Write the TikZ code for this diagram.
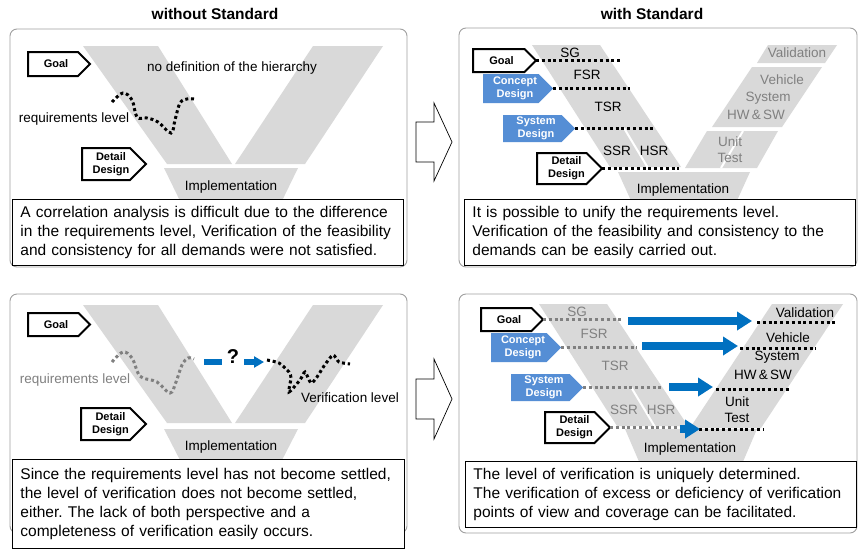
\documentclass[tikz,border=0pt]{standalone}
\usepackage{fontspec}
\setmainfont{Liberation Sans}
\usetikzlibrary{arrows.meta}
\definecolor{vgray}{RGB}{217,217,217}
\definecolor{pgray}{RGB}{160,160,160}
\definecolor{dgray}{RGB}{128,128,128}
\definecolor{tblue}{RGB}{85,142,213}
\definecolor{ablue}{RGB}{0,112,192}
\frenchspacing
% #1 name, #2 x1, #3 y1, #4 tip x, #5 y2, #6 style, #7 text, #8 font
\newcommand\vtag[8]{%
  \path[#6] (#2,#3) -- ({#4-(#5-#3)/2},#3) -- (#4,{(#3+#5)/2}) -- ({#4-(#5-#3)/2},#5) -- (#2,#5) -- cycle;
  \coordinate (#1) at (#4,{(#3+#5)/2});
  \node[tagtext,#8] (#1-t) at ({(#2+#4)/2-3},{(#3+#5)/2}) {#7};
}
\begin{document}
\begin{tikzpicture}[x=1pt,y=-1pt,
  band/.style={fill=vgray},
  panel/.style={draw=pgray, fill=white, rounded corners=7pt, line width=0.9pt},
  tbox/.style={draw=black, fill=white, line width=0.9pt, anchor=north west, inner xsep=8pt, inner ysep=0pt,
     text width=#1, align=left, font=\fontsize{15.5}{18.8}\selectfont},
  dotsb/.style={line width=3pt, dash pattern=on 3pt off 2.8pt},
  dotsg/.style={dotsb, draw=dgray},
  tagw/.style={draw=black, fill=white, line width=2pt},
  tagb/.style={fill=tblue},
  tagtext/.style={inner sep=0pt, align=center, font=\bfseries\fontsize{11}{13}\selectfont},
  btext/.style={text=white, font=\bfseries\fontsize{11}{13}\selectfont},
  lab/.style={inner sep=0pt, font=\fontsize{13.5}{15}\selectfont},
  glab/.style={lab, text=dgray},
  title/.style={inner sep=0pt, font=\bfseries\fontsize{15.5}{17}\selectfont},
  bigarrow/.style={draw=black, fill=white, line width=0.7pt},
  barrow/.style={draw=ablue, line width=8pt, -{Triangle[length=15pt,width=18pt]}},
]
\useasboundingbox (0,0) rectangle (864,549);
\fill[white] (0,0) rectangle (864,549);

% titles
\node[title] (t1) at (215,14) {without Standard};
\node[title] (t2) at (652,14) {with Standard};

% middle block arrows
\draw[bigarrow] (416,122) -- (434,122) -- (434,103) -- (452,142) -- (434,181) -- (434,162) -- (416,162) -- cycle;
\draw[bigarrow] (416,379) -- (434,379) -- (434,359) -- (452,399) -- (434,439) -- (434,419) -- (416,419) -- cycle;

% ================= panel 1 =================
\draw[panel] (10,29) rectangle (407,267);
\fill[band] (83,46) -- (158,46) -- (232,164) -- (167,164) -- cycle;
\fill[band] (313,46) -- (383,46) -- (305,164) -- (235,164) -- cycle;
\fill[band] (164,168) -- (298,168) -- (280,205) -- (182,205) -- cycle;
\node[lab] (impl1) at (231,187) {Implementation};
\node[lab] (nodef) at (232,68) {no definition of the hierarchy};
\node[lab] (req1) at (74,119) {requirements level};
\draw[dotsb] plot[smooth, tension=0.6] coordinates {(112,102) (123,93) (132,100) (137,117) (147,118) (158,122) (171,133) (175,120) (180,103) (187,99) (194,99)};
\vtag{g1}{28}{52}{90}{76}{tagw}{Goal}{}
\vtag{d1}{82}{148}{146}{180}{tagw}{Detail\\Design}{}
\node[tbox=375pt, minimum height=66pt] (box1) at (12,199) {A correlation analysis is difficult due to the difference\\in the requirements level, Verification of the feasibility\\and consistency for all demands were not satisfied.};

% ================= panel 2 =================
\draw[panel] (459,28) rectangle (857,267);
\fill[band] (532,45) -- (600,45) -- (681,167) -- (610,167) -- cycle;
\draw[white, line width=2pt] (624,128) -- (648,168);
\fill[band] (618,172) -- (750,172) -- (735,205) -- (633,205) -- cycle;
\fill[band] (768,45) -- (837,45) -- (825,63) -- (757,63) -- cycle;
\fill[band] (752,67) -- (822,67) -- (782,127) -- (712,127) -- cycle;
\fill[band] (707,131) -- (778,131) -- (757,168) -- (685,168) -- cycle;
\draw[white, line width=2pt] (743,131) -- (721,168);
\node[lab] (sg2) at (570,53) {SG};
\node[lab] (fsr2) at (587,75) {FSR};
\node[lab] (tsr2) at (608,107) {TSR};
\node[lab] (ssr2) at (617,151) {SSR};
\node[lab] (hsr2) at (654,151) {HSR};
\node[lab] (impl2) at (683,190) {Implementation};
\node[glab] (val2) at (797,53) {Validation};
\node[glab] (veh2) at (782,80) {Vehicle};
\node[glab] (sys2) at (768,98) {System};
\node[glab] (hw2) at (756,115) {HW\,\&\,SW};
\node[glab] (unit2) at (730,142) {Unit};
\node[glab] (test2) at (730,158) {Test};
\vtag{g2}{473}{49}{536}{72}{tagw}{Goal}{}
\vtag{c2}{483}{74}{553}{103}{tagb}{Concept\\Design}{btext}
\vtag{s2}{503}{115}{575}{142}{tagb}{System\\Design}{btext}
\vtag{d2}{537}{153}{602}{184}{tagw}{Detail\\Design}{}
\coordinate (g2e) at (620,60.5);
\coordinate (c2e) at (630,88.5);
\coordinate (s2e) at (653,128.5);
\coordinate (d2e) at (679,168.5);
\draw[dotsb] (g2) -- (g2e);
\draw[dotsb] (c2) -- (c2e);
\draw[dotsb] (s2) -- (s2e);
\draw[dotsb] (d2) -- (d2e);
\node[tbox=375pt, minimum height=66pt] (box2) at (464,199) {It is possible to unify the requirements level.\\Verification of the feasibility and consistency to the\\demands can be easily carried out.};

% ================= panel 3 =================
\draw[panel] (10,294) rectangle (407,533);
\begin{scope}[shift={(0,259)}]
\fill[band] (83,46) -- (158,46) -- (232,164) -- (167,164) -- cycle;
\fill[band] (313,46) -- (383,46) -- (305,164) -- (235,164) -- cycle;
\fill[band] (164,170) -- (298,170) -- (280,205) -- (182,205) -- cycle;
\end{scope}
\node[lab] (impl3) at (231,447) {Implementation};
\node[glab] (req3) at (75,380) {requirements level};
\node[lab] (ver3) at (350,398) {Verification level};
\draw[dotsg] plot[smooth, tension=0.6] coordinates {(112,362) (123,352) (132,358) (138,373) (143,378) (157,382) (170,393) (176,382) (182,365) (188,358) (194,359)};
\draw[dotsb] plot[smooth, tension=0.4] coordinates {(267,360) (279,363) (289,372) (291,378) (289,392) (300,380) (305,372) (311,383) (317,377) (324,366) (333,355) (339,362) (350,364)};
\coordinate (q1) at (204,362);
\coordinate (q2) at (222,362);
\coordinate (q3) at (244,362);
\coordinate (q4) at (264,362);
\draw[ablue, line width=5.5pt] (q1) -- (q2);
\node[inner sep=0pt, font=\bfseries\fontsize{20}{22}\selectfont] (qm) at (233,357) {?};
\draw[ablue, line width=5.5pt, -{Triangle[length=10pt,width=11pt]}] (q3) -- (q4);
\vtag{g3}{28}{313}{90}{336}{tagw}{Goal}{}
\vtag{d3}{81}{408}{146}{440}{tagw}{Detail\\Design}{}
\node[tbox=376pt, minimum height=89pt] (box3) at (12,459) {Since the requirements level has not become settled,\\the level of verification does not become settled,\\either. The lack of both perspective and a\\completeness of verification easily occurs.};

% ================= panel 4 =================
\draw[panel] (459,294) rectangle (857,533);
\begin{scope}[shift={(7,259)}]
\fill[band] (532,45) -- (600,45) -- (681,167) -- (610,167) -- cycle;
\draw[white, line width=2pt] (624,128) -- (648,168);
\fill[band] (618,170) -- (750,170) -- (735,205) -- (633,205) -- cycle;
\end{scope}
\fill[band] (772,304) -- (843,304) -- (761,428) -- (690,428) -- cycle;
\node[glab] (sg4) at (577,312) {SG};
\node[glab] (fsr4) at (594,334) {FSR};
\node[glab] (tsr4) at (615,366) {TSR};
\node[glab] (ssr4) at (624,410) {SSR};
\node[glab] (hsr4) at (661,410) {HSR};
\node[lab] (impl4) at (690,449) {Implementation};
\node[lab] (val4) at (805,313) {Validation};
\node[lab] (veh4) at (788,338) {Vehicle};
\node[lab] (sys4) at (777,357) {System};
\node[lab] (hw4) at (763,375) {HW\,\&\,SW};
\node[lab] (unit4) at (737,402) {Unit};
\node[lab] (test4) at (737,418) {Test};
\vtag{g4}{481}{308}{543}{331}{tagw}{Goal}{}
\vtag{c4}{491}{333}{561}{362}{tagb}{Concept\\Design}{btext}
\vtag{s4}{511}{374}{583}{401}{tagb}{System\\Design}{btext}
\vtag{d4}{545}{412}{610}{443}{tagw}{Detail\\Design}{}
\coordinate (g4e) at (622,319.5);
\coordinate (c4e) at (637,347.5);
\coordinate (s4e) at (662,387.5);
\coordinate (d4e) at (680,427.5);
\draw[dotsg] (g4) -- (g4e);
\draw[dotsg] (c4) -- (c4e);
\draw[dotsg] (s4) -- (s4e);
\draw[dotsg] (d4) -- (d4e);
% right dotted levels
\coordinate (v1s) at (757,322); \coordinate (v1e) at (836,322);
\coordinate (v2s) at (740,348); \coordinate (v2e) at (816,348);
\coordinate (v3s) at (716,389); \coordinate (v3e) at (789,389);
\coordinate (v4s) at (699,429); \coordinate (v4e) at (764,429);
\draw[dotsb] (v1s) -- (v1e);
\draw[dotsb] (v2s) -- (v2e);
\draw[dotsb] (v3s) -- (v3e);
\draw[dotsb] (v4s) -- (v4e);
% blue arrows
\coordinate (a1) at (628,321); \coordinate (b1) at (752,321);
\coordinate (a2) at (642,346); \coordinate (b2) at (738,346);
\coordinate (a3) at (669,387); \coordinate (b3) at (713,387);
\coordinate (a4) at (680,429); \coordinate (b4) at (700,429);
\draw[barrow] (a1) -- (b1);
\draw[barrow] (a2) -- (b2);
\draw[barrow] (a3) -- (b3);
\draw[barrow] (a4) -- (b4);
\node[tbox=375pt, minimum height=66pt] (box4) at (465,461) {The level of verification is uniquely determined.\\The verification of excess or deficiency of verification\\points of view and coverage can be facilitated.};
\end{tikzpicture}
\end{document}
